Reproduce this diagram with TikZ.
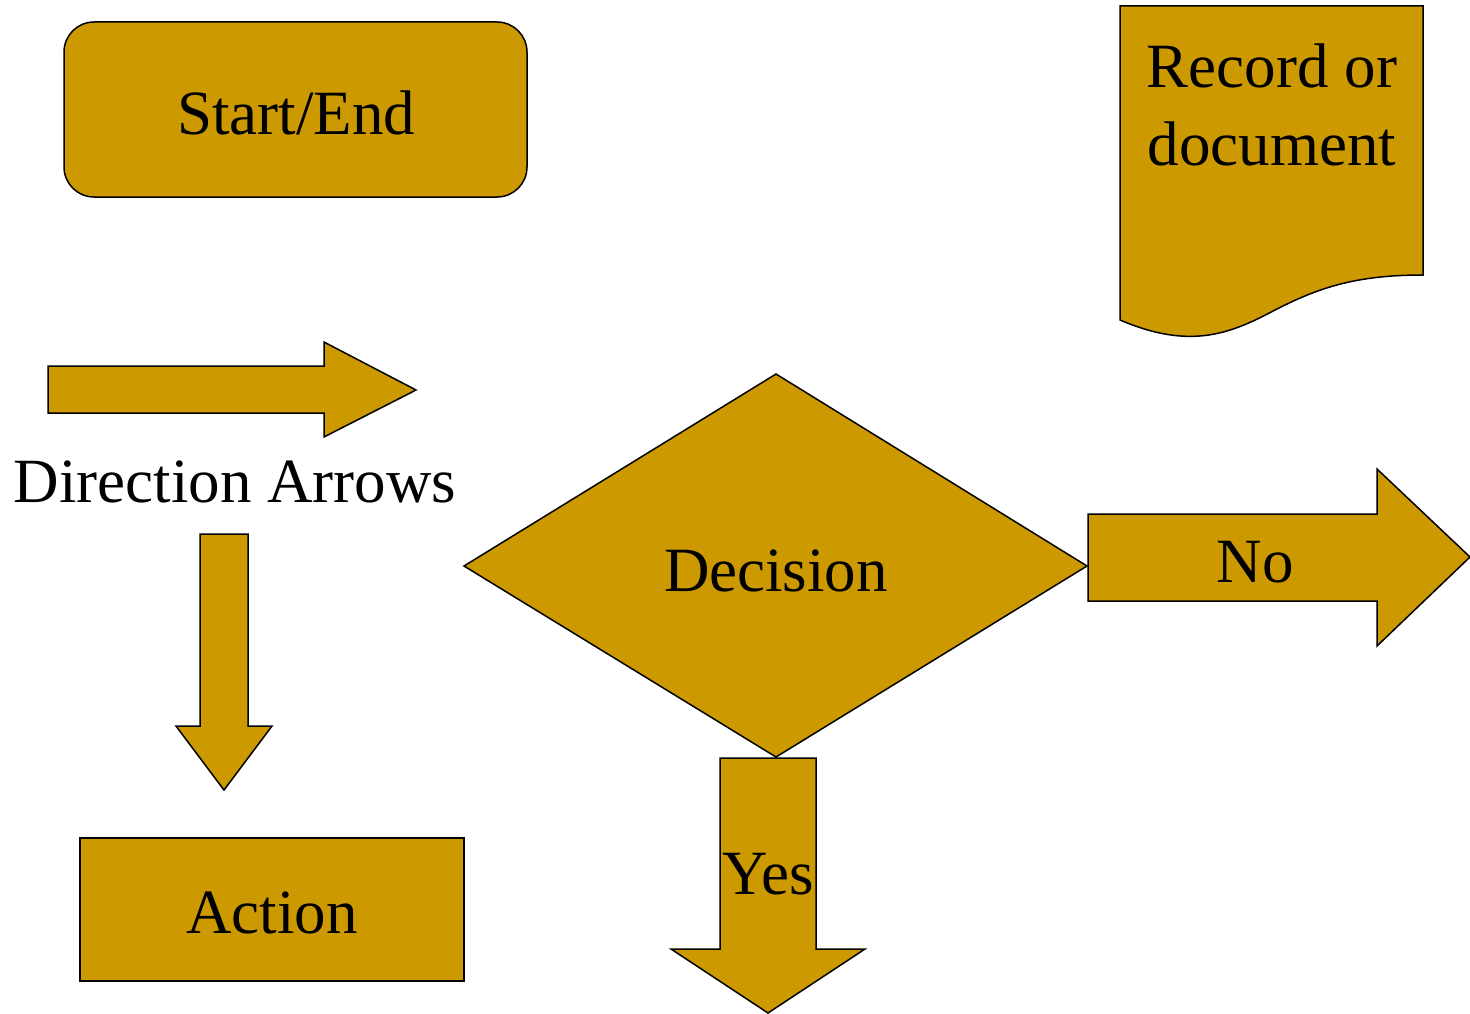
\documentclass[tikz,border=0pt]{standalone}
\usepackage{fontspec}
\setmainfont{Liberation Serif}
\definecolor{gold}{RGB}{204,153,0}
\begin{document}
\begin{tikzpicture}[x=1pt,y=-1pt,
  goldshape/.style={fill=gold,draw=black,line width=1.5pt,line join=miter},
  lbl/.style={font=\fontsize{63}{77}\selectfont,anchor=base,inner sep=0pt,align=center}]
\useasboundingbox (0,0) rectangle (1470,1014);
% Start/End
\draw[goldshape,rounded corners=30] (64,22) rectangle (527,197);
\node[lbl] (startend) at (296,135) {Start/End};
% Record or document
\draw[goldshape] (1120,320) -- (1120,6) -- (1423,6) -- (1423,275)
  .. controls (1355,275) and (1318,288) .. (1275,310)
  .. controls (1230,334) and (1190,350) .. cycle;
\node[lbl] (rec) at (1272,88) {Record or};
\node[lbl] (doc) at (1272,165) {document};
% Direction arrow right
\draw[goldshape] (48,366) -- (324,366) -- (324,342) -- (416,390) -- (324,437) -- (324,413) -- (48,413) -- cycle;
\node[lbl] (dirlbl) at (235,502) {Direction Arrows};
% Direction arrow down
\draw[goldshape] (200,534) -- (248,534) -- (248,726) -- (272,726) -- (224,790) -- (176,726) -- (200,726) -- cycle;
% Action
\draw[goldshape] (80,838) rectangle (464,981);
\node[lbl] (action) at (272,933) {Action};
% Decision
\draw[goldshape] (464,566) -- (776,374) -- (1087,566) -- (776,757) -- cycle;
\node[lbl] (decision) at (776,591) {Decision};
% No arrow
\draw[goldshape] (1088,514) -- (1377,514) -- (1377,469) -- (1470,557) -- (1377,646) -- (1377,601) -- (1088,601) -- cycle;
\node[lbl] (no) at (1255,582) {No};
% Yes arrow
\draw[goldshape] (720,758) -- (816,758) -- (816,949) -- (865,949) -- (768,1013) -- (671,949) -- (720,949) -- cycle;
\node[lbl] (yes) at (768,894) {Yes};
\end{tikzpicture}
\end{document}
